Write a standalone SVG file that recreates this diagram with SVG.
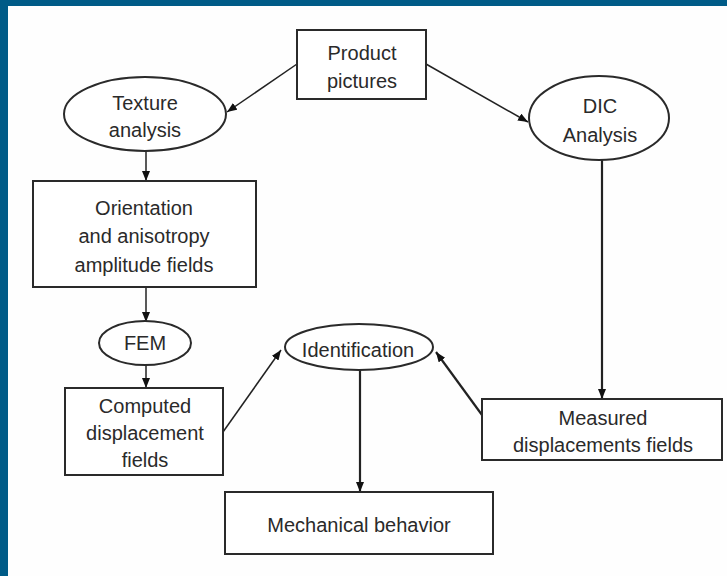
<svg xmlns="http://www.w3.org/2000/svg" width="727" height="576" viewBox="0 0 727 576">
<defs>
<style>
.bg{fill:#fefefe}
.band{fill:#005b87}
.n{fill:#fff;stroke:#2a2a2a;stroke-width:2}
.t{font-family:"Liberation Sans",Arial,Helvetica,sans-serif;font-size:20px;fill:#2a2a2a;text-anchor:middle}
.c{fill:none;stroke:#222;stroke-width:1.5}
.c2{fill:none;stroke:#222;stroke-width:2.2}
</style>
<marker id="ah" markerUnits="userSpaceOnUse" markerWidth="12" markerHeight="10" refX="10" refY="4" orient="auto">
<path d="M0,0 L10,4 L0,8 Z" fill="#111"/>
</marker>
</defs>
<rect class="bg" x="0" y="0" width="727" height="576"/>
<rect class="band" x="0" y="0" width="727" height="6"/>
<rect class="band" x="0" y="0" width="8" height="576"/>

<g id="connectors">
<line class="c" x1="297" y1="64" x2="227" y2="112" marker-end="url(#ah)"/>
<line class="c" x1="426" y1="64" x2="528" y2="122" marker-end="url(#ah)"/>
<line class="c" x1="146" y1="151" x2="146" y2="181" marker-end="url(#ah)"/>
<line class="c" x1="146" y1="287" x2="146" y2="322" marker-end="url(#ah)"/>
<line class="c" x1="146" y1="365" x2="146" y2="388" marker-end="url(#ah)"/>
<line class="c2" x1="602" y1="160" x2="602" y2="399" marker-end="url(#ah)"/>
<line class="c" x1="223" y1="432" x2="281" y2="350" marker-end="url(#ah)"/>
<line class="c2" x1="482" y1="415" x2="436" y2="352" marker-end="url(#ah)"/>
<line class="c2" x1="360" y1="370" x2="360" y2="492" marker-end="url(#ah)"/>
</g>

<g id="product">
<rect class="n" x="297" y="30" width="129" height="69"/>
<text class="t" x="362" y="60">Product</text>
<text class="t" x="362" y="88">pictures</text>
</g>
<g id="texture">
<ellipse class="n" cx="145" cy="114" rx="81" ry="37"/>
<text class="t" x="145" y="110">Texture</text>
<text class="t" x="145" y="137">analysis</text>
</g>
<g id="dic">
<ellipse class="n" cx="599" cy="118" rx="70" ry="42"/>
<text class="t" x="600" y="113">DIC</text>
<text class="t" x="600" y="142">Analysis</text>
</g>
<g id="orientation">
<rect class="n" x="33" y="181" width="223" height="106"/>
<text class="t" x="144" y="215">Orientation</text>
<text class="t" x="144" y="243">and anisotropy</text>
<text class="t" x="144" y="272">amplitude fields</text>
</g>
<g id="fem">
<ellipse class="n" cx="145" cy="343" rx="46" ry="22"/>
<text class="t" x="145" y="350">FEM</text>
</g>
<g id="computed">
<rect class="n" x="65" y="388" width="158" height="87"/>
<text class="t" x="145" y="413">Computed</text>
<text class="t" x="145" y="440">displacement</text>
<text class="t" x="145" y="467">fields</text>
</g>
<g id="identification">
<ellipse class="n" cx="359" cy="347" rx="74" ry="23"/>
<text class="t" x="358" y="357">Identification</text>
</g>
<g id="measured">
<rect class="n" x="482" y="399" width="240" height="61"/>
<text class="t" x="603" y="425">Measured</text>
<text class="t" x="603" y="452">displacements fields</text>
</g>
<g id="mechanical">
<rect class="n" x="225" y="492" width="268" height="62"/>
<text class="t" x="359" y="532">Mechanical behavior</text>
</g>
</svg>
